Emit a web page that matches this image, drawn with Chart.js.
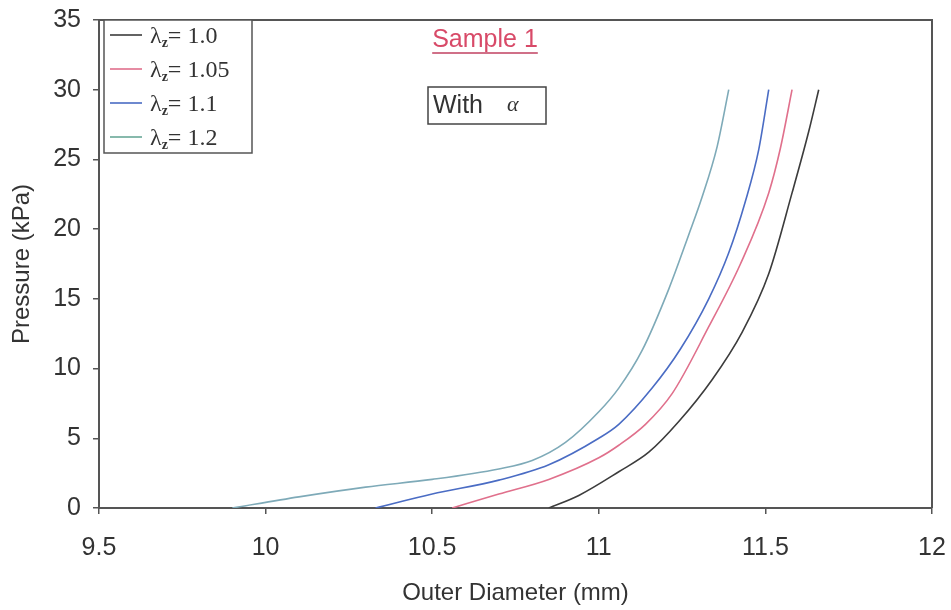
<!DOCTYPE html>
<html>
<head>
<meta charset="utf-8">
<script src="https://cdn.jsdelivr.net/npm/chart.js@4/dist/chart.umd.min.js"></script>
<style>
  html, body { margin: 0; padding: 0; background: #fff; }
  #wrap { width: 951px; height: 610px; }
</style>
</head>
<body>
<div id="wrap"><canvas id="myChart" width="951" height="610"></canvas></div>
<script>
// pressure vs outer diameter for each axial stretch
var stretch = ["1.0", "1.05", "1.1", "1.2"];
var colors = ["#3c3c3c", "#e0708c", "#4a6cc4", "#7eaab8"];
var legendColors = ["#3c3c3c", "#e0708c", "#4a6cc4", "#6aa898"];

var d10 = [10.85, 10.94, 11.06, 11.15, 11.24, 11.34, 11.43, 11.51, 11.58, 11.63, 11.66];
var p10 = [0, 0.9, 2.6, 4.0, 6.2, 9.2, 12.6, 16.8, 22.6, 27.0, 30];

var d105 = [10.56, 10.70, 10.85, 11.0, 11.06, 11.14, 11.22, 11.33, 11.425, 11.51, 11.545, 11.58];
var p105 = [0, 1.0, 2.05, 3.6, 4.5, 6.0, 8.2, 13.0, 17.5, 22.6, 25.8, 30];

var d11 = [10.33, 10.50, 10.70, 10.85, 11.0, 11.06, 11.16, 11.245, 11.33, 11.39, 11.44, 11.48, 11.51];
var p11 = [0, 1.0, 2.0, 3.1, 5.0, 6.0, 8.6, 11.4, 15.0, 18.3, 22.0, 25.7, 30];

var d12 = [9.9, 10.1, 10.3, 10.5, 10.7, 10.8, 10.9, 11.0, 11.06, 11.13, 11.21, 11.27, 11.31, 11.355, 11.39];
var p12 = [0, 0.8, 1.5, 2.05, 2.8, 3.4, 4.7, 6.9, 8.6, 11.3, 15.7, 19.6, 22.3, 25.9, 30];

var xTicks = [9.5, 10, 10.5, 11, 11.5, 12];
var xTickLabels = ["9.5", "10", "10.5", "11", "11.5", "12"];
var yTicks = [0, 5, 10, 15, 20, 25, 30, 35];

function pairs(xs, ys) {
    var out = [];
    for (var i = 0; i < xs.length; i++) out.push({x: xs[i], y: ys[i]});
    return out;
}

var series = [pairs(d10, p10), pairs(d105, p105), pairs(d11, p11), pairs(d12, p12)];

var datasets = [];
for (var i = 0; i < stretch.length; i++) {
    datasets.push({
        label: stretch[i],
        data: series[i],
        showLine: true,
        borderColor: colors[i],
        borderWidth: 1.6,
        pointRadius: 0,
        cubicInterpolationMode: "monotone",
        fill: false
    });
}

var SANS = "'Liberation Sans', Arial, sans-serif";
var SERIF = "'Liberation Serif', 'Times New Roman', serif";

// frame, legend box and the two text labels
var decorations = {
    id: "decorations",
    afterDraw: function(chart) {
        var ctx = chart.ctx;
        var a = chart.chartArea;
        ctx.save();
        ctx.strokeStyle = "#555";
        ctx.lineWidth = 2;
        ctx.beginPath();
        ctx.moveTo(a.left, a.top);
        ctx.lineTo(a.right, a.top);
        ctx.lineTo(a.right, a.bottom);
        ctx.stroke();

        // legend
        var lx = a.left + 5, ly = a.top, lw = 148, lh = 133;
        ctx.fillStyle = "#fff";
        ctx.fillRect(lx, ly, lw, lh);
        ctx.lineWidth = 1.5;
        ctx.strokeStyle = "#555";
        ctx.strokeRect(lx, ly, lw, lh);
        chart.data.datasets.forEach(function(ds, i) {
            var y = ly + 15 + i * 34;
            ctx.strokeStyle = legendColors[i];
            ctx.lineWidth = 1.6;
            ctx.beginPath();
            ctx.moveTo(lx + 6, y);
            ctx.lineTo(lx + 38, y);
            ctx.stroke();
            ctx.fillStyle = "#333";
            ctx.textBaseline = "middle";
            ctx.textAlign = "left";
            ctx.font = "24px " + SERIF;
            var tx = lx + 46;
            ctx.fillText("\u03bb", tx, y + 2);
            tx += ctx.measureText("\u03bb").width;
            ctx.font = "bold 14px " + SERIF;
            ctx.fillText("z", tx, y + 8);
            tx += ctx.measureText("z").width;
            ctx.font = "24px " + SERIF;
            ctx.fillText("= " + ds.label, tx, y + 2);
        });

        // title
        ctx.fillStyle = "#d84a68";
        ctx.font = "25px " + SANS;
        ctx.textAlign = "center";
        ctx.textBaseline = "middle";
        ctx.fillText("Sample 1", 485, 40);
        var tw = ctx.measureText("Sample 1").width;
        ctx.strokeStyle = "#c04060";
        ctx.lineWidth = 1.5;
        ctx.beginPath();
        ctx.moveTo(485 - tw / 2, 53);
        ctx.lineTo(485 + tw / 2, 53);
        ctx.stroke();

        // "With α" box
        ctx.fillStyle = "#fff";
        ctx.fillRect(428, 87, 118, 37);
        ctx.strokeStyle = "#444";
        ctx.lineWidth = 1.5;
        ctx.strokeRect(428, 87, 118, 37);
        ctx.fillStyle = "#333";
        ctx.textAlign = "left";
        ctx.font = "25px " + SANS;
        ctx.fillText("With", 433, 106);
        ctx.font = "italic 22px " + SERIF;
        ctx.fillText("\u03b1", 507, 105);
        ctx.restore();
    }
};

var myChart = document.getElementById("myChart").getContext("2d");
var chart = new Chart(myChart, {
    type: "scatter",
    data: {datasets: datasets},
    options: {
        responsive: false,
        animation: false,
        layout: {padding: {left: 0, right: 19, top: 20, bottom: 0}},
        plugins: {legend: {display: false}, tooltip: {enabled: false}},
        scales: {
            x: {
                type: "linear",
                min: 9.5,
                max: 12,
                afterBuildTicks: function(scale) {
                    scale.ticks = xTicks.map(function(v) { return {value: v}; });
                },
                afterFit: function(scale) {
                    scale.height = 102;
                    scale.paddingLeft = 0;
                    scale.paddingRight = 0;
                },
                ticks: {
                    color: "#333",
                    font: {family: SANS, size: 25},
                    padding: 19,
                    maxRotation: 0,
                    callback: function(v) { return xTickLabels[xTicks.indexOf(v)]; }
                },
                grid: {drawOnChartArea: false, color: "#555", tickLength: 6, lineWidth: 1.5},
                border: {color: "#555", width: 2},
                title: {
                    display: true,
                    text: "Outer Diameter (mm)",
                    color: "#333",
                    font: {family: SANS, size: 24},
                    padding: {top: 0, bottom: 2}
                }
            },
            y: {
                min: 0,
                max: 35,
                afterBuildTicks: function(scale) {
                    scale.ticks = yTicks.map(function(v) { return {value: v}; });
                },
                afterFit: function(scale) {
                    scale.width = 99;
                    scale.paddingTop = 0;
                    scale.paddingBottom = 0;
                },
                ticks: {
                    color: "#333",
                    font: {family: SANS, size: 25},
                    padding: 12
                },
                grid: {drawOnChartArea: false, color: "#555", tickLength: 6, lineWidth: 1.5},
                border: {color: "#555", width: 2},
                title: {
                    display: true,
                    text: "Pressure (kPa)",
                    color: "#333",
                    font: {family: SANS, size: 24},
                    padding: {top: 8, bottom: 0}
                }
            }
        }
    },
    plugins: [decorations]
});
</script>
</body>
</html>
